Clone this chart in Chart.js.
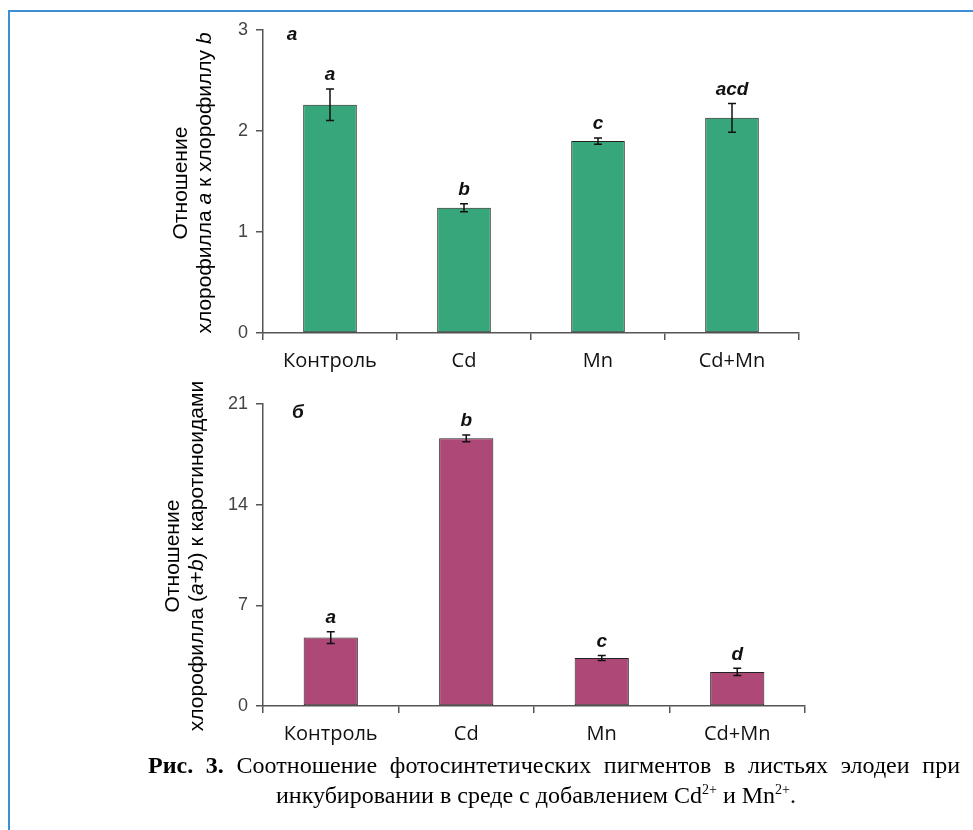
<!DOCTYPE html>
<html>
<head>
<meta charset="utf-8">
<script src="https://cdn.jsdelivr.net/npm/chart.js@4.4.0/dist/chart.umd.min.js"></script>
<style>
  body { margin: 0; background: #fff; }
  #page { position: relative; width: 973px; height: 830px; overflow: hidden; }
  #frame { position: absolute; left: 8px; top: 10px; right: 0; bottom: 0;
           border-left: 2px solid #3b8fd2; border-top: 2px solid #3b8fd2; }
  canvas { position: absolute; left: 0; }
  .ytitle { position: absolute; width: 420px; height: 60px; line-height: 29px;
            font: 21px "Liberation Sans", Arial, sans-serif; color: #000;
            text-align: center; transform: translate(-50%, -50%) rotate(-90deg); white-space: nowrap; }
  .cap { position: absolute; left: 148px; width: 812px; white-space: nowrap;
         font: 24px "Liberation Serif", "Times New Roman", serif; line-height: 30px; color: #000; z-index: 2; }
  #cap1 { top: 750px; text-align: justify; text-align-last: justify; }
  #cap2 { top: 780px; text-align: center; left: 130px; }
  sup { font-size: 14px; line-height: 0; }
</style>
</head>
<body>
<div id="page">
  <div id="frame"></div>
  <canvas id="chartA" width="973" height="380" style="top:0"></canvas>
  <canvas id="chartB" width="973" height="380" style="top:380px"></canvas>
  <div class="ytitle" style="left:198px; top:183px">Отношение<br>хлорофилла <i>a</i> к хлорофиллу <i>b</i></div>
  <div class="ytitle" style="left:190px; top:556px">Отношение<br>хлорофилла (<i>a</i>+<i>b</i>) к каротиноидами</div>
  <div class="cap" id="cap1"><b>Рис. 3.</b> Соотношение фотосинтетических пигментов в листьях элодеи при</div>
  <div class="cap" id="cap2">инкубировании в среде с добавлением Cd<sup>2+</sup> и Mn<sup>2+</sup>.</div>
</div>
<script>
const categories = ['Контроль', 'Cd', 'Mn', 'Cd+Mn'];

// а: хлорофилл a / хлорофилл b
const ratioAB = [2.26, 1.24, 1.90, 2.13];
const ratioABErr = [0.155, 0.04, 0.03, 0.143];
const ratioABLetters = ['a', 'b', 'c', 'acd'];
const ticksAB = [0, 1, 2, 3];

// б: хлорофилл (a+b) / каротиноиды
const ratioCar = [4.76, 18.61, 3.34, 2.37];
const ratioCarErr = [0.41, 0.24, 0.17, 0.25];
const ratioCarLetters = ['a', 'b', 'c', 'd'];
const ticksCar = [0, 7, 14, 21];

const axisColor = '#555';

// error bars + significance letters + panel label
const marksPlugin = {
  id: 'marks',
  afterDatasetsDraw(chart, args, opts) {
    const ctx = chart.ctx;
    const y = chart.scales.y;
    const meta = chart.getDatasetMeta(0);
    const vals = chart.data.datasets[0].data;
    ctx.save();
    ctx.strokeStyle = '#111';
    ctx.lineWidth = 1.5;
    meta.data.forEach((bar, i) => {
      const yt = y.getPixelForValue(vals[i] + opts.err[i]);
      const yb = y.getPixelForValue(vals[i] - opts.err[i]);
      ctx.beginPath();
      ctx.moveTo(bar.x, yt); ctx.lineTo(bar.x, yb);
      ctx.moveTo(bar.x - 4, yt); ctx.lineTo(bar.x + 4, yt);
      ctx.moveTo(bar.x - 4, yb); ctx.lineTo(bar.x + 4, yb);
      ctx.stroke();
      ctx.fillStyle = '#111';
      ctx.font = 'italic bold 19px "Liberation Sans", Arial, sans-serif';
      ctx.textAlign = 'center';
      ctx.textBaseline = 'middle';
      ctx.fillText(opts.letters[i], bar.x, yt - 14);
    });
    const ca = chart.chartArea;
    ctx.font = 'italic bold 19px "Liberation Sans", Arial, sans-serif';
    ctx.textAlign = 'center';
    ctx.textBaseline = 'middle';
    ctx.fillText(opts.panel, ca.left + opts.panelDx, ca.top + opts.panelDy);
    ctx.restore();
  }
};

function makeChart(id, values, color, tickVals, pad, xHeight, extra) {
  return new Chart(document.getElementById(id), {
    type: 'bar',
    data: {
      labels: categories,
      datasets: [{
        data: values,
        backgroundColor: color,
        borderColor: '#222',
        borderWidth: 1,
        borderSkipped: false,
        barPercentage: 0.4,
        categoryPercentage: 1.0
      }]
    },
    options: {
      responsive: false,
      animation: false,
      layout: { padding: pad },
      plugins: { legend: { display: false }, tooltip: { enabled: false }, marks: extra },
      scales: {
        x: {
          offset: true,
          grid: { offset: true, drawOnChartArea: false, drawTicks: true, tickLength: 7, color: axisColor, lineWidth: 1.5 },
          border: { display: true, color: axisColor, width: 1.5 },
          ticks: { color: '#111', padding: 9, font: { family: '"Open Sans", sans-serif', size: 20 } },
          afterFit(s) { s.height = xHeight; }
        },
        y: {
          min: tickVals[0],
          max: tickVals[tickVals.length - 1],
          afterBuildTicks(s) { s.ticks = tickVals.map(v => ({ value: v })); },
          grid: { drawOnChartArea: false, drawTicks: true, tickLength: 7, color: axisColor, lineWidth: 1.5 },
          border: { display: true, color: axisColor, width: 1.5 },
          ticks: { color: '#444', padding: 8, font: { family: '"Liberation Sans", Arial, sans-serif', size: 18 } },
          afterFit(s) { s.width = 263; }
        }
      }
    },
    plugins: [marksPlugin]
  });
}

makeChart('chartA', ratioAB, '#37a67a', ticksAB,
  { top: 30, right: 174, left: 0, bottom: 0 }, 47,
  { err: ratioABErr, letters: ratioABLetters, panel: 'a', panelDx: 29, panelDy: 5 });

makeChart('chartB', ratioCar, '#ad4877', ticksCar,
  { top: 24, right: 168, left: 0, bottom: 0 }, 54,
  { err: ratioCarErr, letters: ratioCarLetters, panel: 'б', panelDx: 35, panelDy: 9 });
</script>
</body>
</html>
